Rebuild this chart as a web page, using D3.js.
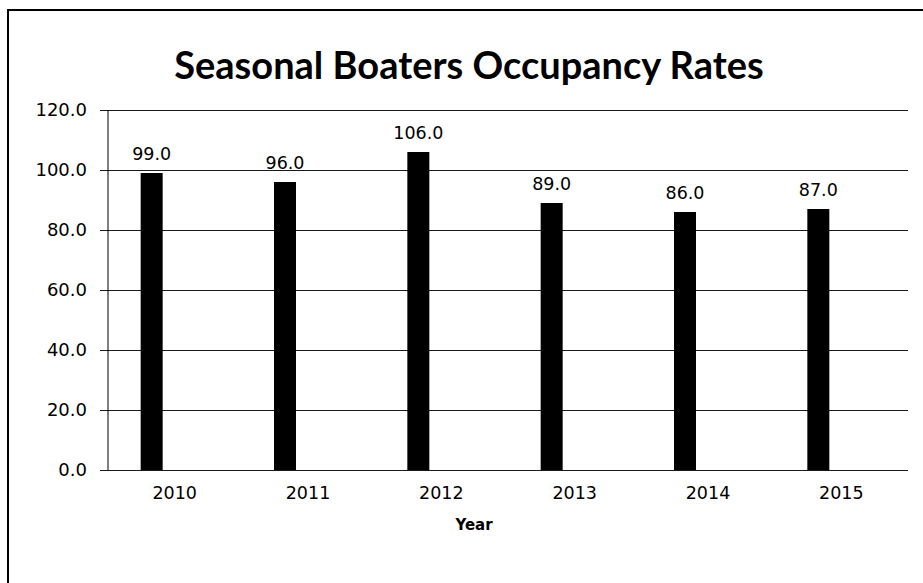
<!DOCTYPE html>
<html>
<head>
<meta charset="utf-8">
<script src="https://cdn.jsdelivr.net/npm/d3@7"></script>
<style>
  body { margin: 0; background: #fff; }
  svg { display: block; }
</style>
</head>
<body>
<div id="wrapper"></div>
<script>
const years = ["2010", "2011", "2012", "2013", "2014", "2015"];
const rates = [99, 96, 106, 89, 86, 87];
const yTicks = [0, 20, 40, 60, 80, 100, 120];

const width = 923;
const height = 583;
const plot = { left: 108, right: 908, top: 110, bottom: 470 };

const svg = d3.select("#wrapper")
    .append("svg")
    .attr("width", width)
    .attr("height", height);

// outer chart frame (runs off the right and bottom of the scan)
svg.append("rect")
    .attr("x", 8)
    .attr("y", 10)
    .attr("width", 1000)
    .attr("height", 1000)
    .attr("fill", "none")
    .attr("stroke", "#000")
    .attr("stroke-width", 2);

svg.append("text")
    .attr("x", 469)
    .attr("y", 79)
    .attr("text-anchor", "middle")
    .style("font-family", "Lato, 'Open Sans', sans-serif")
    .style("font-weight", "bold")
    .style("font-size", "38px")
    .text("Seasonal Boaters Occupancy Rates");

const x = d3.scaleBand().domain(years).range([plot.left, plot.right]);
const y = d3.scaleLinear().domain([0, 120]).range([plot.bottom, plot.top]);

// gridlines + tick marks
const yAxis = svg.append("g")
    .attr("transform", `translate(${plot.left},0)`)
    .call(d3.axisLeft(y).tickValues(yTicks).tickFormat(d3.format(".1f"))
        .tickSize(-(plot.right - plot.left)).tickPadding(21));
yAxis.select(".domain").remove();
yAxis.selectAll(".tick line")
    .attr("x1", -8)
    .attr("stroke", "#1a1a1a");
yAxis.selectAll("text")
    .style("font-family", "'DejaVu Sans', Verdana, sans-serif")
    .style("font-size", "18px")
    .attr("fill", "#000");

svg.append("line")
    .attr("x1", plot.left).attr("x2", plot.left)
    .attr("y1", plot.top).attr("y2", plot.bottom)
    .attr("stroke", "#000");

// bars sit left of each category centre (second, empty series slot)
const barW = 22;
const barOffset = -34;
const barX = d => x(d) + x.bandwidth() / 2 + barOffset;

svg.append("g")
    .selectAll("rect")
    .data(years)
    .join("rect")
    .attr("x", d => barX(d))
    .attr("y", (d, i) => y(rates[i]))
    .attr("width", barW)
    .attr("height", (d, i) => y(0) - y(rates[i]))
    .attr("fill", "#000");

svg.append("g")
    .selectAll("text")
    .data(years)
    .join("text")
    .attr("x", d => barX(d) + barW / 2)
    .attr("y", (d, i) => y(rates[i]) - 13)
    .attr("text-anchor", "middle")
    .style("font-family", "'DejaVu Sans', Verdana, sans-serif")
    .style("font-size", "17.5px")
    .text((d, i) => d3.format(".1f")(rates[i]));

const xAxis = svg.append("g")
    .attr("transform", `translate(0,${plot.bottom})`)
    .call(d3.axisBottom(x).tickSize(0).tickPadding(17));
xAxis.select(".domain").remove();
xAxis.selectAll("text")
    .style("font-family", "'DejaVu Sans', Verdana, sans-serif")
    .style("font-size", "17.5px")
    .attr("fill", "#000");

svg.append("text")
    .attr("x", 474)
    .attr("y", 530)
    .attr("text-anchor", "middle")
    .style("font-family", "'DejaVu Sans', Verdana, sans-serif")
    .style("font-weight", "bold")
    .style("font-size", "15px")
    .text("Year");
</script>
</body>
</html>
